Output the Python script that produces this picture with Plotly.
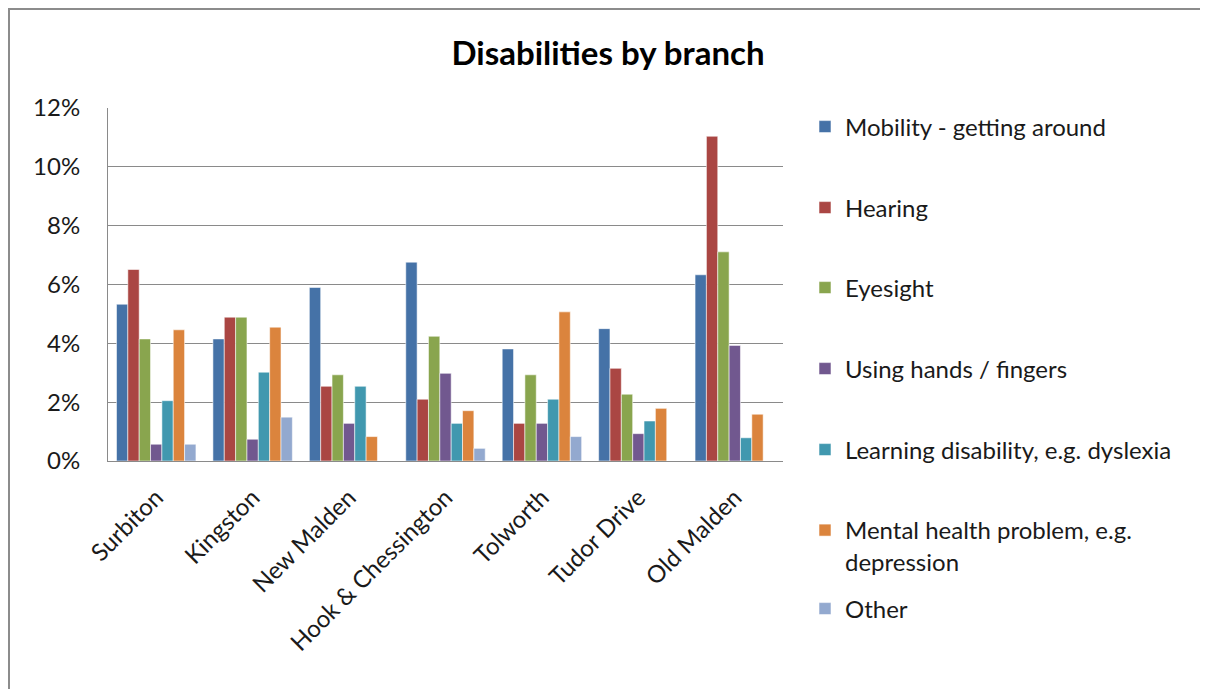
import plotly.graph_objects as go

branches = ["Surbiton", "Kingston", "New Malden", "Hook & Chessington", "Tolworth", "Tudor Drive", "Old Malden"]
series_names = [
    "Mobility - getting around",
    "Hearing",
    "Eyesight",
    "Using hands / fingers",
    "Learning disability, e.g. dyslexia",
    "Mental health problem, e.g.<br>depression",
    "Other",
]
mobility = [5.33, 4.15, 5.90, 6.76, 3.81, 4.50, 6.33]
hearing = [6.51, 4.89, 2.54, 2.10, 1.28, 3.15, 11.04]
eyesight = [4.15, 4.89, 2.93, 4.24, 2.93, 2.27, 7.11]
hands = [0.57, 0.74, 1.28, 2.98, 1.28, 0.93, 3.93]
learning = [2.05, 3.02, 2.54, 1.28, 2.10, 1.36, 0.79]
mental = [4.46, 4.55, 0.83, 1.71, 5.07, 1.79, 1.59]
other = [0.57, 1.49, 0.0, 0.43, 0.83, 0.0, 0.0]
values = [mobility, hearing, eyesight, hands, learning, mental, other]
colors = ["#4572A7", "#AA4643", "#89A54E", "#71588F", "#4198AF", "#DB843D", "#93A9CF"]
legend_ypix = [119, 200, 280, 361, 442, 538, 601]

W, H = 1208, 689
L, R, T, B = 100, 775, 100, 453
FONT = "Lato"
TXT = "#1a1a1a"

fig = go.Figure()
legend_layouts = {}
for i, (name, vals, col) in enumerate(zip(series_names, values, colors)):
    lg = "legend" if i == 0 else f"legend{i+1}"
    fig.add_trace(go.Bar(
        x=branches, y=[v / 100 for v in vals], name=name,
        marker=dict(color=col, line=dict(color="rgba(255,255,255,0.55)", width=1)),
        legend=lg,
    ))
    legend_layouts[lg] = dict(
        x=(797 - L) / (R - L), xanchor="left",
        y=(B - legend_ypix[i]) / (B - T), yanchor="middle",
        valign="top",
        bgcolor="rgba(0,0,0,0)", borderwidth=0,
        font=dict(family=FONT, size=24, color=TXT),
    )

fig.update_layout(
    width=W, height=H,
    margin=dict(l=L, r=W - R, t=T, b=H - B, autoexpand=False),
    paper_bgcolor="white", plot_bgcolor="white",
    barmode="group", bargap=0.176, bargroupgap=0,
    title=dict(text="<b>Disabilities by branch</b>", x=600 / W, xref="container", xanchor="center",
               y=1 - 45 / H, yref="container", yanchor="middle",
               font=dict(family=FONT, size=33, color="black")),
    font=dict(family=FONT, size=24, color=TXT),
    showlegend=True,
    **legend_layouts,
)
fig.update_yaxes(
    range=[0, 0.12], dtick=0.02, tickformat=".0%",
    showgrid=True, gridcolor="#8a8a8a", gridwidth=1,
    showline=True, linecolor="#8a8a8a", linewidth=1,
    ticks="", ticklabelstandoff=22,
    tickfont=dict(family=FONT, size=24, color=TXT),
    zeroline=False,
)
fig.update_xaxes(
    tickangle=-45, showline=True, linecolor="#8a8a8a", linewidth=1,
    tickfont=dict(family=FONT, size=24, color=TXT),
    ticks="", showgrid=False, ticklabelstandoff=12,
)
fig.add_shape(type="rect", xref="paper", yref="paper",
              x0=(1 - L) / (R - L), x1=(W + 20 - L) / (R - L),
              y0=(B - (H + 20)) / (B - T), y1=(B - 1) / (B - T),
              line=dict(color="#8c8c8c", width=2), fillcolor="rgba(0,0,0,0)", layer="below")

fig.write_html("out.html")
